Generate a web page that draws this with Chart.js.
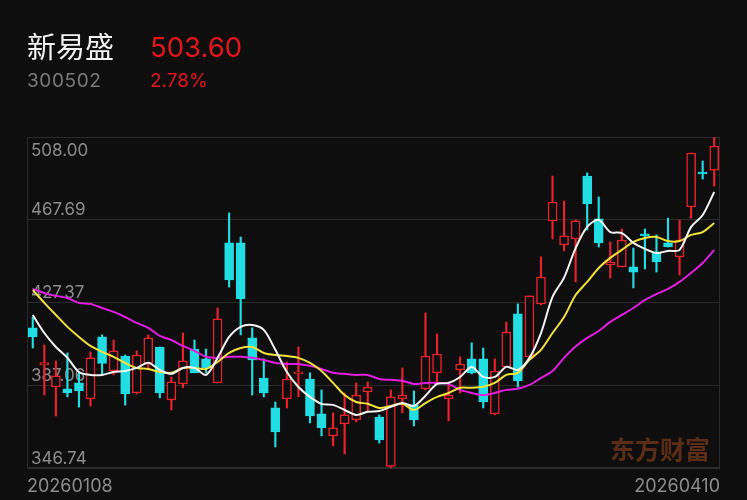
<!DOCTYPE html>
<html>
<head>
<meta charset="utf-8">
<script src="https://cdn.jsdelivr.net/npm/chart.js@4.4.1/dist/chart.umd.min.js"></script>
<style>
    body { margin: 0; background: #0e0e0e; }
    #wrap { position: relative; width: 747px; height: 500px; background: #0e0e0e; overflow: hidden; }
    #kline { position: absolute; left: 0; top: 0; }
    .txt { position: absolute; white-space: nowrap; font-family: Inter, "Noto Sans CJK SC", sans-serif; }
    #name { left: 27px; top: 25px; font-size: 29px; color: #f2f2f2; font-family: "Noto Sans CJK SC", sans-serif; line-height: 40px; }
    #price { left: 150px; top: 27px; font-size: 27.5px; color: #e5161c; line-height: 40px; }
    #code { left: 27px; top: 68px; font-size: 19px; color: #7a7a7a; line-height: 26px; letter-spacing: 0.6px; }
    #pct { left: 150px; top: 68px; font-size: 19px; color: #e5161c; line-height: 26px; }
    #mark { left: 610px; top: 432px; font-size: 25px; font-weight: bold; color: #5a2e16; font-family: "Noto Sans CJK SC", sans-serif; line-height: 32px; }
</style>
</head>
<body>
<div id="wrap">
    <canvas id="kline" width="747" height="500"></canvas>
    <div class="txt" id="name">新易盛</div>
    <div class="txt" id="price">503.60</div>
    <div class="txt" id="code">300502</div>
    <div class="txt" id="pct">2.78%</div>
    <div class="txt" id="mark">东方财富</div>
</div>
<script>
//valores
var dates = [
    "20260108", "20260109", "20260112", "20260113", "20260114", "20260115", "20260116",
    "20260119", "20260120", "20260121", "20260122", "20260123", "20260126", "20260127",
    "20260128", "20260129", "20260130", "20260202", "20260203", "20260204", "20260205",
    "20260206", "20260209", "20260210", "20260211", "20260212", "20260213", "20260224",
    "20260225", "20260226", "20260227", "20260302", "20260303", "20260304", "20260305",
    "20260306", "20260309", "20260310", "20260311", "20260312", "20260313", "20260316",
    "20260317", "20260318", "20260319", "20260320", "20260323", "20260324", "20260325",
    "20260326", "20260327", "20260330", "20260331", "20260401", "20260402", "20260403",
    "20260407", "20260408", "20260409", "20260410"
];

var openP = [
    415.0, 396.9, 386.3, 385.3, 388.2, 380.4, 410.6, 394.0, 401.3, 383.3,
    397.7, 405.7, 379.9, 387.7, 404.7, 399.9, 388.2, 456.4, 456.4, 410.1,
    390.6, 376.0, 380.4, 392.6, 390.1, 373.1, 362.4, 368.2, 370.2, 383.8,
    371.6, 347.5, 380.4, 377.5, 385.3, 393.1, 380.4, 394.5, 399.9, 399.9,
    373.1, 396.0, 421.8, 400.9, 426.7, 467.1, 455.4, 458.3, 489.0, 468.1,
    445.7, 444.7, 444.7, 460.8, 451.5, 456.4, 449.6, 473.9, 490.5, 491.9
];
var highP = [
    420.3, 406.7, 398.9, 402.8, 393.1, 403.3, 411.6, 409.1, 401.8, 403.8,
    411.6, 405.7, 391.1, 412.5, 409.1, 404.7, 424.7, 471.0, 459.3, 415.0,
    399.9, 378.9, 398.4, 405.7, 393.1, 384.8, 373.6, 383.3, 388.2, 388.7,
    372.6, 384.8, 395.5, 384.3, 422.3, 412.1, 388.7, 400.9, 407.7, 405.2,
    399.9, 417.9, 426.7, 430.6, 449.6, 489.0, 476.8, 467.6, 490.5, 478.8,
    456.9, 463.2, 453.9, 463.2, 460.3, 468.5, 467.6, 500.2, 496.3, 508.00
];
var lowP = [
    405.2, 382.3, 372.1, 381.4, 376.4, 376.9, 392.1, 392.1, 377.4, 382.8,
    394.5, 380.9, 375.0, 385.8, 393.1, 393.1, 388.2, 434.9, 411.6, 382.3,
    381.4, 357.0, 376.0, 381.4, 368.7, 362.4, 357.5, 353.6, 369.2, 374.1,
    358.9, 346.74, 373.6, 367.2, 384.8, 388.7, 369.7, 383.3, 392.6, 376.0,
    372.6, 396.0, 386.2, 400.9, 426.2, 458.3, 452.5, 437.4, 462.7, 454.4,
    439.3, 444.7, 434.5, 443.7, 442.2, 454.4, 440.8, 468.5, 487.5, 484.1
];
var closeP = [
    410.6, 398.1, 391.6, 383.4, 384.3, 400.4, 397.7, 403.8, 382.8, 401.8,
    410.1, 383.3, 388.7, 398.9, 393.1, 395.5, 419.4, 438.4, 429.1, 399.4,
    383.3, 364.3, 390.1, 393.5, 372.1, 366.3, 366.3, 372.6, 382.3, 386.2,
    360.4, 381.4, 382.3, 370.2, 401.3, 402.3, 382.3, 397.4, 393.1, 378.9,
    394.0, 413.0, 389.2, 430.6, 439.8, 476.3, 459.8, 467.1, 475.4, 456.4,
    447.1, 457.8, 442.2, 459.8, 447.1, 454.4, 457.8, 500.2, 489.98, 503.60
];

var ma5 = [
    421.3, 412.5, 405.7, 400.4, 393.5, 392.1, 392.1, 393.5, 394.0, 395.5,
    398.0, 394.5, 392.6, 395.5, 395.5, 392.1, 400.4, 410.6, 415.5, 416.4,
    414.0, 404.3, 393.5, 386.2, 381.4, 378.0, 377.5, 375.0, 372.6, 374.1,
    374.5, 376.5, 378.4, 377.0, 381.9, 387.7, 388.2, 391.1, 396.0, 391.1,
    391.1, 396.0, 394.5, 400.4, 412.5, 430.1, 439.5, 453.9, 464.2, 467.6,
    461.7, 461.2, 456.4, 453.5, 451.5, 452.5, 453.0, 464.2, 470.0, 481.2
];
var ma10 = [
    433.5, 427.2, 421.3, 415.5, 410.6, 406.2, 403.3, 400.9, 397.9, 395.5,
    395.0, 393.5, 393.1, 395.5, 395.5, 395.0, 398.4, 402.8, 405.2, 405.7,
    402.8, 401.8, 401.3, 400.4, 397.9, 394.0, 388.2, 382.3, 378.9, 378.0,
    376.0, 377.0, 378.0, 375.0, 378.4, 381.4, 383.3, 385.8, 385.8, 386.3,
    388.2, 392.1, 393.1, 399.4, 404.3, 412.5, 420.3, 431.0, 437.4, 444.2,
    449.1, 453.0, 456.9, 458.8, 459.3, 457.3, 457.3, 460.3, 461.7, 466.1
];
var ma20 = [
    434.0, 432.0, 430.6, 429.6, 427.2, 426.7, 424.7, 422.8, 420.3, 417.4,
    415.0, 411.1, 409.1, 406.2, 403.8, 400.9, 400.4, 400.9, 400.9, 400.4,
    399.4, 397.9, 397.4, 397.4, 396.5, 395.0, 393.1, 392.6, 392.1, 392.1,
    390.1, 389.7, 389.2, 387.7, 388.2, 388.2, 387.7, 384.8, 383.3, 382.3,
    383.3, 384.8, 385.3, 387.2, 390.6, 394.0, 400.4, 405.9, 410.1, 413.5,
    417.9, 421.3, 424.7, 428.6, 431.5, 434.0, 437.4, 441.8, 446.6, 453.0
];

var yTicks = [346.74, 387.06, 427.37, 467.69, 508.00];

var upColor = "#e8232b";
var downColor = "#22dde3";
var bgColor = "#0e0e0e";
var gridColor = "#2b2b2b";
var labelColor = "#8c8c8c";

var myKline;

function start() {
    var wicks = [];
    var bodies = [];
    var lineColors = [];
    var fillColors = [];
    for (var i = 0; i < dates.length; i++) {
        var up = closeP[i] >= openP[i];
        wicks.push([lowP[i], highP[i]]);
        bodies.push([Math.min(openP[i], closeP[i]), Math.max(openP[i], closeP[i])]);
        lineColors.push(up ? upColor : downColor);
        fillColors.push(up ? bgColor : downColor);
    }

    // labels of the price axis, grid frame and the two dates
    var decor = {
        id: "decor",
        beforeDatasetsDraw: function (chart) {
            var c = chart.ctx;
            var area = chart.chartArea;
            var y = chart.scales.y;
            c.save();
            c.strokeStyle = gridColor;
            c.lineWidth = 1;
            c.strokeRect(Math.round(area.left) + 0.5, Math.round(area.top) + 0.5,
                Math.round(area.right - area.left) - 1, Math.round(area.bottom - area.top) - 1);
            c.font = "17px Inter, sans-serif";
            c.fillStyle = labelColor;
            c.textAlign = "left";
            c.textBaseline = "alphabetic";
            for (var i = 0; i < yTicks.length; i++) {
                var py = y.getPixelForValue(yTicks[i]);
                var by = (i === yTicks.length - 1) ? py + 19 : py - 4.5;
                c.fillText(yTicks[i].toFixed(2), area.left + 4, by);
            }
            c.restore();
        },
        afterDraw: function (chart) {
            var c = chart.ctx;
            var area = chart.chartArea;
            c.save();
            c.font = "18px Inter, sans-serif";
            c.fillStyle = labelColor;
            c.textBaseline = "alphabetic";
            c.textAlign = "left";
            c.fillText(dates[0], area.left, 492);
            c.textAlign = "right";
            c.fillText(dates[dates.length - 1], area.right, 492);
            c.restore();
        }
    };

    var ctx = document.getElementById("kline").getContext("2d");
    myKline = new Chart(ctx, {
        type: "bar",
        data: {
            labels: dates,
            datasets: [
                {
                    type: "line", label: "MA5", data: ma5, order: 0,
                    borderColor: "#f4f4f4", borderWidth: 2, pointRadius: 0, tension: 0.3
                },
                {
                    type: "line", label: "MA10", data: ma10, order: 0,
                    borderColor: "#f2e23a", borderWidth: 2, pointRadius: 0, tension: 0.3
                },
                {
                    type: "line", label: "MA20", data: ma20, order: 0,
                    borderColor: "#e21fe0", borderWidth: 2, pointRadius: 0, tension: 0.3
                },
                {
                    label: "body", data: bodies, order: 1, grouped: false,
                    backgroundColor: fillColors, borderColor: lineColors,
                    borderWidth: 1.5, borderSkipped: false, barThickness: 9, minBarLength: 2
                },
                {
                    label: "wick", data: wicks, order: 2, grouped: false,
                    backgroundColor: lineColors, borderWidth: 0, barThickness: 1.5
                }
            ]
        },
        options: {
            responsive: false,
            animation: false,
            layout: { padding: { left: 27, right: 27, top: 137, bottom: 32 } },
            plugins: { legend: { display: false }, tooltip: { enabled: false } },
            scales: {
                x: { type: "category", offset: true, display: false },
                y: {
                    type: "linear", min: 346.74, max: 508.00,
                    afterBuildTicks: function (axis) {
                        axis.ticks = yTicks.map(function (v) { return { value: v }; });
                    },
                    ticks: { display: false },
                    grid: { color: gridColor, drawTicks: false, tickLength: 0 },
                    border: { color: gridColor }
                }
            }
        },
        plugins: [decor]
    });
}

onload = start();
</script>
</body>
</html>
